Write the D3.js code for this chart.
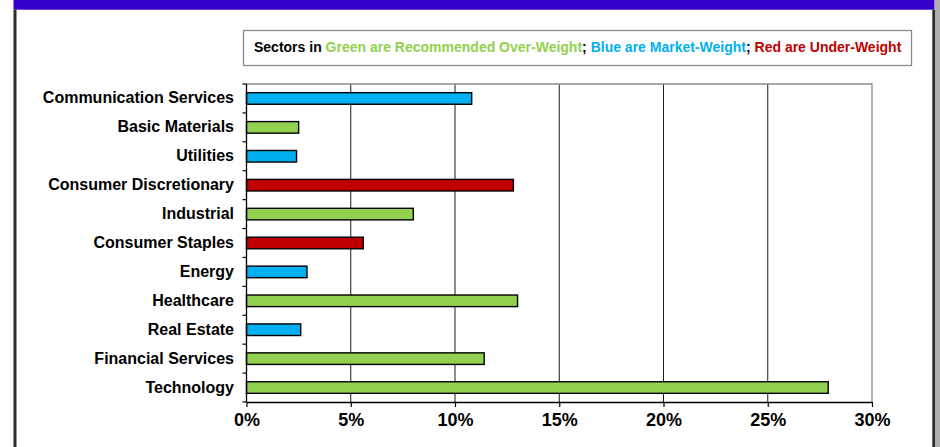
<!DOCTYPE html>
<html>
<head>
<meta charset="utf-8">
<script src="https://cdn.jsdelivr.net/npm/d3@7/dist/d3.min.js"></script>
<style>
  html, body { margin: 0; padding: 0; background: #fff; }
  svg { display: block; font-family: "Liberation Sans", Arial, Helvetica, sans-serif; }
</style>
</head>
<body>
<svg id="chart" width="940" height="447"></svg>
<script>
// Sector weights (% of portfolio), listed top to bottom
const sectors = [
  "Communication Services", "Basic Materials", "Utilities", "Consumer Discretionary",
  "Industrial", "Consumer Staples", "Energy", "Healthcare", "Real Estate",
  "Financial Services", "Technology"
];
const weights = [10.8, 2.5, 2.4, 12.8, 8.0, 5.6, 2.9, 13.0, 2.6, 11.4, 27.9];
// Recommendation per sector: over / market / under weight
const ratings = ["market", "over", "market", "under", "over", "under", "market", "over", "market", "over", "over"];
const xTicks = [0, 5, 10, 15, 20, 25, 30];

const ratingColor = { over: "#92D050", market: "#00B0F0", under: "#C00000" };

const legendParts = [
  { text: "Sectors in ", color: "#000" },
  { text: "Green are Recommended Over-Weight", color: "#92D050" },
  { text: "; ", color: "#000" },
  { text: "Blue are Market-Weight", color: "#00B0F0" },
  { text: "; ", color: "#000" },
  { text: "Red are Under-Weight", color: "#C00000" }
];

const svg = d3.select("#chart");

// page frame: purple header strip with dark side rules
svg.append("rect").attr("x", 13.5).attr("y", 0).attr("width", 921).attr("height", 9.7).attr("fill", "#3300CC");
svg.append("rect").attr("x", 13.5).attr("y", 9.7).attr("width", 3).attr("height", 440).attr("fill", "#2b2b2b");
svg.append("rect").attr("x", 932.3).attr("y", 9.7).attr("width", 2.7).attr("height", 440).attr("fill", "#2b2b2b");
svg.append("rect").attr("x", 935).attr("y", 0).attr("width", 5).attr("height", 447).attr("fill", "#b0b0b0");

// legend box
const lg = svg.append("g");
lg.append("rect")
  .attr("x", 243.5).attr("y", 30.5).attr("width", 668).attr("height", 35)
  .attr("fill", "#fff").attr("stroke", "#8a8a8a").attr("stroke-width", 1.3);
const lt = lg.append("text")
  .attr("x", 254).attr("y", 52)
  .attr("font-size", 14).attr("font-weight", "bold");
lt.selectAll("tspan").data(legendParts).join("tspan")
  .attr("fill", d => d.color)
  .attr("xml:space", "preserve")
  .text(d => d.text);

// plot scales
const x = d3.scaleLinear().domain([0, 30]).range([246.5, 872]);
const y = d3.scaleBand().domain(sectors).range([84, 402]).paddingInner(0.6).paddingOuter(0.3);
const yEdge = d3.scaleBand().domain(sectors).range([84, 402]).padding(0);

// vertical gridlines
svg.append("g").selectAll("line").data(xTicks.slice(1, -1)).join("line")
  .attr("x1", d => x(d)).attr("x2", d => x(d))
  .attr("y1", 84).attr("y2", 402)
  .attr("stroke", "#1a1a1a").attr("stroke-width", 1);

// plot outline (top and right)
svg.append("path")
  .attr("d", `M${x(0)},84H${x(30)}V402`)
  .attr("fill", "none").attr("stroke", "#8c8c8c").attr("stroke-width", 1.3);

// bars
svg.append("g").selectAll("rect").data(sectors).join("rect")
  .attr("x", x(0))
  .attr("y", d => y(d))
  .attr("width", (d, i) => x(weights[i]) - x(0))
  .attr("height", y.bandwidth())
  .attr("fill", (d, i) => ratingColor[ratings[i]])
  .attr("stroke", "#000").attr("stroke-width", 1.4);

// y axis: line, band-edge ticks, category labels
const yAxis = svg.append("g");
yAxis.append("line").attr("x1", x(0)).attr("x2", x(0)).attr("y1", 84).attr("y2", 402)
  .attr("stroke", "#000").attr("stroke-width", 1.3);
const edges = sectors.map(s => yEdge(s)).concat([402]);
yAxis.selectAll("line.tk").data(edges).join("line").attr("class", "tk")
  .attr("x1", x(0) - 4).attr("x2", x(0))
  .attr("y1", d => d).attr("y2", d => d)
  .attr("stroke", "#000").attr("stroke-width", 1.2);
yAxis.selectAll("text").data(sectors).join("text")
  .attr("x", 234)
  .attr("y", d => yEdge(d) + yEdge.bandwidth() / 2 - 0.8)
  .attr("dy", "0.36em")
  .attr("text-anchor", "end")
  .attr("font-size", 16).attr("font-weight", "bold")
  .attr("fill", "#000")
  .text(d => d);

// x axis
const xAxis = svg.append("g").attr("transform", "translate(0,402)")
  .call(d3.axisBottom(x).tickValues(xTicks).tickSize(5).tickSizeOuter(0).tickFormat(d => d + "%"));
xAxis.select(".domain").attr("stroke", "#000").attr("stroke-width", 1.3);
xAxis.selectAll(".tick line").attr("stroke", "#000").attr("stroke-width", 1.2);
xAxis.selectAll(".tick text")
  .attr("y", 11).attr("dy", "0.71em")
  .attr("font-family", "'Liberation Sans', Arial, sans-serif")
  .attr("font-size", 18).attr("font-weight", "bold").attr("fill", "#000");
</script>
</body>
</html>
